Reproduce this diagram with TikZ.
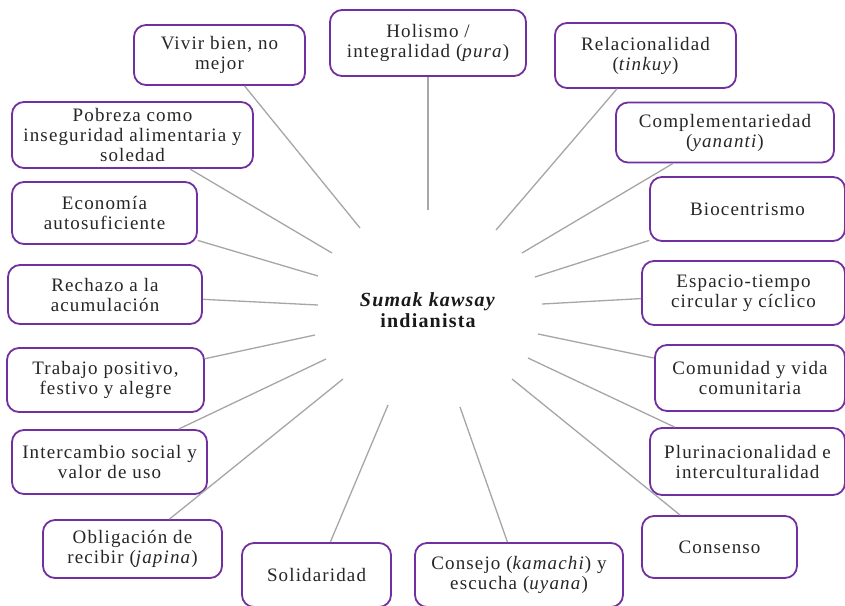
\documentclass[tikz,border=0pt]{standalone}
\usepackage{fontspec}
\setmainfont[LetterSpace=6]{Liberation Serif}
\usetikzlibrary{positioning}
\definecolor{boxpurple}{HTML}{7030A0}
\definecolor{linegray}{HTML}{A6A6A6}
\tikzset{
	idea/.style={
		rectangle,
		rounded corners=12pt,
		draw=boxpurple,
		line width=1.8pt,
		fill=white,
		align=center,
		text=black!85,
		inner sep=0pt,
		font=\fontsize{19}{20}\selectfont
	}
}

\begin{document}
\begin{tikzpicture}[x=1pt,y=-1pt]
		\tikzstyle{connect}=[line width=1.3pt, draw=linegray]
		\tikzstyle{core}=[align=center, text=black!90, font=\fontsize{20}{21}\selectfont\bfseries]
		\clip (0,0) rectangle (845,605);
		\fill[white] (0,0) rectangle (845,605);
		
		\node[core] (sumak) at (428,310) {\textit{Sumak kawsay}\\indianista};
		
		\node[idea, minimum width=171pt, minimum height=60pt] (vivir) at (219.5,55) {Vivir bien, no\\mejor};
		\node[idea, minimum width=196pt, minimum height=66pt] (holismo) at (428,43) {Holismo /\\integralidad (\textit{pura})};
		\node[idea, minimum width=181pt, minimum height=65pt] (relac) at (645.5,55.5) {Relacionalidad\\(\textit{tinkuy})};
		\node[idea, minimum width=241pt, minimum height=66pt] (pobreza) at (132.5,135) {Pobreza como\\inseguridad alimentaria y\\soledad};
		\node[idea, minimum width=218pt, minimum height=60pt] (compl) at (725,132.5) {Complementariedad\\(\textit{yananti})};
		\node[idea, minimum width=185pt, minimum height=62pt] (econ) at (104.5,213) {Economía\\autosuficiente};
		\node[idea, minimum width=195pt, minimum height=64pt] (bio) at (747.5,209) {Biocentrismo};
		\node[idea, minimum width=194pt, minimum height=59pt] (rechazo) at (105,294.5) {Rechazo a la\\acumulación};
		\node[idea, minimum width=203pt, minimum height=64pt] (espacio) at (743.5,293) {Espacio-tiempo\\circular y cíclico};
		\node[idea, minimum width=197pt, minimum height=64pt] (trabajo) at (105.5,380) {Trabajo positivo,\\festivo y alegre};
		\node[idea, minimum width=190pt, minimum height=66pt] (comunidad) at (750,378) {Comunidad y vida\\comunitaria};
		\node[idea, minimum width=195pt, minimum height=64pt] (inter) at (109.5,462) {Intercambio social y\\valor de uso};
		\node[idea, minimum width=195pt, minimum height=67pt] (pluri) at (747.5,461.5) {Plurinacionalidad e\\interculturalidad};
		\node[idea, minimum width=179pt, minimum height=58pt] (oblig) at (132.5,549) {Obligación de\\recibir (\textit{japina})};
		\node[idea, minimum width=149pt, minimum height=64pt] (solid) at (316.5,575) {Solidaridad};
		\node[idea, minimum width=208pt, minimum height=64pt] (consejo) at (519,575) {Consejo (\textit{kamachi}) y\\escucha (\textit{uyana})};
		\node[idea, minimum width=155pt, minimum height=62pt] (consenso) at (719.5,547) {Consenso};
		
		% inner ends of the spokes
		\coordinate (s-vivir) at (360,228);
		\coordinate (s-holismo) at (428,210);
		\coordinate (s-relac) at (496,230);
		\coordinate (s-pobreza) at (332,253);
		\coordinate (s-compl) at (522,253);
		\coordinate (s-econ) at (318,276);
		\coordinate (s-bio) at (535,277);
		\coordinate (s-rechazo) at (318,305);
		\coordinate (s-espacio) at (542,304);
		\coordinate (s-trabajo) at (315,335);
		\coordinate (s-comunidad) at (538,334);
		\coordinate (s-inter) at (326,359);
		\coordinate (s-pluri) at (528,358);
		\coordinate (s-oblig) at (343,379);
		\coordinate (s-solid) at (388,405);
		\coordinate (s-consejo) at (460,407);
		\coordinate (s-consenso) at (512,379);
		
		\path
		(s-vivir) edge [connect] (vivir)
		(s-holismo) edge [connect] (holismo)
		(s-relac) edge [connect] (relac)
		(s-pobreza) edge [connect] (pobreza)
		(s-compl) edge [connect] (compl)
		(s-econ) edge [connect] (econ)
		(s-bio) edge [connect] (bio)
		(s-rechazo) edge [connect] (rechazo)
		(s-espacio) edge [connect] (espacio)
		(s-trabajo) edge [connect] (trabajo)
		(s-comunidad) edge [connect] (comunidad)
		(s-inter) edge [connect] (inter)
		(s-pluri) edge [connect] (pluri)
		(s-oblig) edge [connect] (oblig)
		(s-solid) edge [connect] (solid)
		(s-consejo) edge [connect] (consejo)
		(s-consenso) edge [connect] (consenso)
		;
		
\end{tikzpicture}
\end{document}
